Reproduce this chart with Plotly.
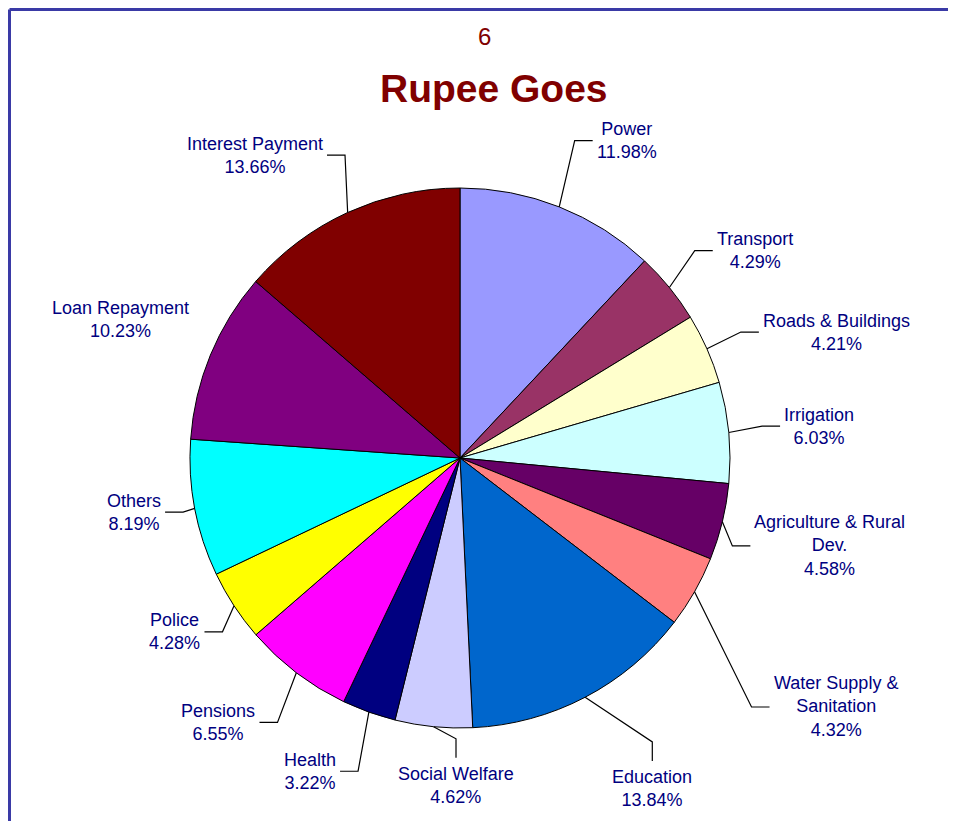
import math
import plotly.graph_objects as go

# ---- data ----
categories = ["Power", "Transport", "Roads & Buildings", "Irrigation",
              "Agriculture & Rural Dev.", "Water Supply & Sanitation",
              "Education", "Social Welfare", "Health", "Pensions", "Police",
              "Others", "Loan Repayment", "Interest Payment"]
label_lines = ["Power", "Transport", "Roads & Buildings", "Irrigation",
               "Agriculture & Rural<br>Dev.", "Water Supply &<br>Sanitation",
               "Education", "Social Welfare", "Health", "Pensions", "Police",
               "Others", "Loan Repayment", "Interest Payment"]
shares = [11.98, 4.29, 4.21, 6.03, 4.58, 4.32, 13.84, 4.62, 3.22, 6.55,
          4.28, 8.19, 10.23, 13.66]
slice_colors = ["#9999FF", "#993366", "#FFFFCC", "#CCFFFF", "#660066",
                "#FF8080", "#0066CC", "#CCCCFF", "#000080", "#FF00FF",
                "#FFFF00", "#00FFFF", "#800080", "#800000"]

# ---- label layout tuning (elbow radius factor, angle offset deg, mode) ----
label_layout = [
    (1.25, -1.7, "side"), (1.16, -2.3, "side"), (1.14, -0.3, "side"),
    (1.125, -0.6, "side"), (1.06, 4.2, "side"), (1.42, 10.8, "side"),
    (1.27, -6.5, "bottom"), (1.04, -4.8, "bottom"), (1.22, -1.7, "side"),
    (1.19, -2.7, "side"), (1.09, -3.0, "side"), (1.045, -0.3, "side"),
    (1.055, 6.6, "none"), (1.20, 3.8, "side"),
]

# page has an 8px body margin: work in page pixels, convert to figure pixels
OFF = 8
W, H = 948, 813
CX, CY, R = 460, 458, 270
TEXT_COLOR = "#000080"
FONT = "Arial, Liberation Sans, sans-serif"


def px(x):
    return (x - OFF) / W


def py(y):
    return 1 - (y - OFF) / H


fig = go.Figure()
fig.add_trace(go.Pie(
    labels=categories, values=shares, sort=False, direction="clockwise",
    rotation=0, textinfo="none", showlegend=False,
    marker=dict(colors=slice_colors, line=dict(color="black", width=1)),
    domain=dict(x=[px(CX - R), px(CX + R)], y=[py(CY + R), py(CY - R)]),
))

total = sum(shares)
annotations = []
shapes = []
cum = 0.0
for name, txt, val, (kr, dang, mode) in zip(categories, label_lines, shares, label_layout):
    mid = (cum + val / 2) / total * 360.0
    cum += val
    a = math.radians(mid)
    sx, sy = CX + R * math.sin(a), CY - R * math.cos(a)
    b = math.radians(mid + dang)
    ex, ey = CX + kr * R * math.sin(b), CY - kr * R * math.cos(b)
    text = f"{txt}<br>{val:.2f}%"
    if mode == "bottom":
        endx, endy = ex, ey + 19
        annotations.append(dict(x=px(ex), y=py(endy + 4), xref="paper", yref="paper",
                                text=text, showarrow=False, xanchor="center",
                                yanchor="top", align="center",
                                font=dict(family=FONT, size=18, color=TEXT_COLOR)))
        shapes.append(dict(type="path", xref="paper", yref="paper",
                           path=f"M {px(sx)},{py(sy)} L {px(ex)},{py(ey)} L {px(endx)},{py(endy)}",
                           line=dict(color="black", width=1.2)))
    else:
        side = 1 if math.sin(b) > 0 else -1
        endx = ex + side * 18
        annotations.append(dict(x=px(endx + side * 2), y=py(ey), xref="paper", yref="paper",
                                text=text, showarrow=False,
                                xanchor="left" if side > 0 else "right",
                                yanchor="middle", align="center",
                                font=dict(family=FONT, size=18, color=TEXT_COLOR)))
        if mode == "side":
            shapes.append(dict(type="path", xref="paper", yref="paper",
                               path=f"M {px(sx)},{py(sy)} L {px(ex)},{py(ey)} L {px(endx)},{py(ey)}",
                               line=dict(color="black", width=1.2)))

# titles
annotations.append(dict(x=px(484), y=py(37), xref="paper", yref="paper", text="6",
                        showarrow=False, xanchor="center", yanchor="middle",
                        font=dict(family=FONT, size=24, color="#800000")))
annotations.append(dict(x=px(494), y=py(88), xref="paper", yref="paper",
                        text="<b>Rupee Goes</b>", showarrow=False,
                        xanchor="center", yanchor="middle",
                        font=dict(family=FONT, size=39, color="#800000")))

# frame: only top and left edges are visible in the picture
FRAME = dict(color="#3a3aa6", width=3)
shapes.append(dict(type="line", xref="paper", yref="paper",
                   x0=px(9.5), x1=1.0, y0=py(9.5), y1=py(9.5), line=FRAME))
shapes.append(dict(type="line", xref="paper", yref="paper",
                   x0=px(9.5), x1=px(9.5), y0=0.0, y1=py(9.5), line=FRAME))

fig.update_layout(
    width=W, height=H, margin=dict(l=0, r=0, t=0, b=0),
    paper_bgcolor="white", plot_bgcolor="white",
    annotations=annotations, shapes=shapes,
)
fig.write_html("out.html")
